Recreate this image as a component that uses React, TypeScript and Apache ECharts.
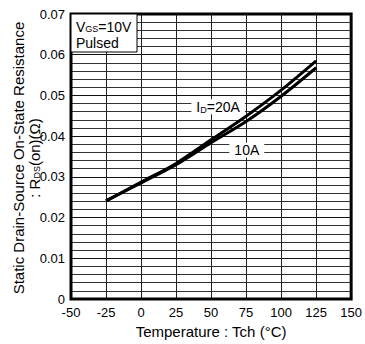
import React, { useEffect, useRef } from "react";
import * as echarts from "echarts";

const temps = [-25, 0, 25, 50, 75, 100, 125];
const r20A = [0.0241, 0.0287, 0.0333, 0.0391, 0.0449, 0.0513, 0.0585];
const r10A = [0.0241, 0.0285, 0.033, 0.0384, 0.0436, 0.0498, 0.0568];
const xTicks = { min: -50, max: 150, step: 25 };
const yTicks = { min: 0, max: 0.07, step: 0.01 };

const FONT = "'Liberation Sans', Arial, Helvetica, sans-serif";

export default function App() {
  const ref = useRef<HTMLDivElement>(null);
  useEffect(() => {
    if (!ref.current) return;
    const chart = echarts.init(ref.current, undefined, { renderer: "svg" });
    const pair = (ys: number[]) => temps.map((t, i) => [t, ys[i]]);
    const lbl = (text: string) => ({
      show: true,
      position: "inside",
      formatter: text,
      backgroundColor: "#fff",
      padding: [1, 5, 0, 5],
      color: "#000",
      fontFamily: FONT,
      fontSize: 14,
      rich: {
        a: { fontSize: 14, fontFamily: FONT, color: "#000" },
        b: { fontSize: 9, fontFamily: FONT, color: "#000", padding: [5, 0, 0, 0] },
      },
    });
    chart.setOption({
      animation: false,
      grid: {
        left: 71,
        top: 14,
        right: 6,
        bottom: 44,
        show: true,
        borderColor: "#000",
        borderWidth: 3,
        backgroundColor: "transparent",
        z: 10,
      },
      xAxis: {
        type: "value",
        min: xTicks.min,
        max: xTicks.max,
        interval: xTicks.step,
        axisLine: { show: false },
        axisTick: { show: false },
        axisLabel: { color: "#000", fontSize: 13, fontFamily: FONT, margin: 7, showMaxLabel: true, showMinLabel: true },
        splitLine: { show: true, lineStyle: { color: "#222", width: 1 } },
        name: "Temperature : Tch (°C)",
        nameLocation: "middle",
        nameGap: 25,
        nameTextStyle: { color: "#000", fontSize: 15, fontFamily: FONT },
      },
      yAxis: {
        type: "value",
        min: yTicks.min,
        max: yTicks.max,
        interval: yTicks.step,
        axisLine: { show: false },
        axisTick: { show: false },
        axisLabel: {
          color: "#000",
          fontSize: 13,
          fontFamily: FONT,
          margin: 6,
          formatter: (v: number) => (Math.abs(v) < 1e-9 ? "0" : v.toFixed(2)),
        },
        splitLine: { show: true, lineStyle: { color: "#111", width: 1 } },
        minorTick: { show: false, splitNumber: 5 },
        minorSplitLine: { show: true, lineStyle: { color: "#333", width: 1 } },
      },
      series: [
        {
          type: "line",
          name: "20A",
          data: pair(r20A),
          smooth: 0.3,
          symbol: "none",
          lineStyle: { color: "#000", width: 3 },
          z: 5,
          markPoint: {
            symbol: "rect",
            symbolSize: 0,
            data: [{ coord: [55, 0.0472] }],
            label: lbl("{a|I}{b|D}{a|=20A}"),
          },
        },
        {
          type: "line",
          name: "10A",
          data: pair(r10A),
          smooth: 0.3,
          symbol: "none",
          lineStyle: { color: "#000", width: 3 },
          z: 5,
          markPoint: {
            symbol: "rect",
            symbolSize: 0,
            data: [{ coord: [75.5, 0.0366] }],
            label: lbl("10A"),
          },
        },
      ],
      graphic: [
        {
          type: "rect",
          z: 100,
          shape: { x: 71, y: 14, width: 66, height: 38 },
          style: { fill: "#fff", stroke: "#000", lineWidth: 1 },
        },
        {
          type: "text",
          z: 101,
          x: 76,
          y: 27,
          style: {
            text: "{a|V}{b|GS}{a|=10V}",
            verticalAlign: "middle",
            rich: {
              a: { fontSize: 14, fontFamily: FONT, fill: "#000" },
              b: { fontSize: 9, fontFamily: FONT, fill: "#000", padding: [4, 0, 0, 0] },
            },
          },
        },
        {
          type: "text",
          z: 101,
          x: 76,
          y: 43,
          style: { text: "Pulsed", fontSize: 14, fontFamily: FONT, fill: "#000", verticalAlign: "middle" },
        },
        {
          type: "text",
          x: 18,
          y: 158,
          rotation: Math.PI / 2,
          style: {
            text: "Static Drain-Source On-State Resistance",
            fontSize: 15,
            fontFamily: FONT,
            fill: "#000",
            align: "center",
            verticalAlign: "middle",
          },
        },
        {
          type: "text",
          x: 34,
          y: 158,
          rotation: Math.PI / 2,
          style: {
            text: "{a|: R}{b|DS}{a|(on)(Ω)}",
            align: "center",
            verticalAlign: "middle",
            rich: {
              a: { fontSize: 15, fontFamily: FONT, fill: "#000" },
              b: { fontSize: 9, fontFamily: FONT, fill: "#000", padding: [5, 0, 0, 0] },
            },
          },
        },
      ],
    });
    return () => chart.dispose();
  }, []);
  return (
    <div
      ref={ref}
      style={{ position: "fixed", left: 0, top: 0, width: 365, height: 344, background: "#fff" }}
    />
  );
}
